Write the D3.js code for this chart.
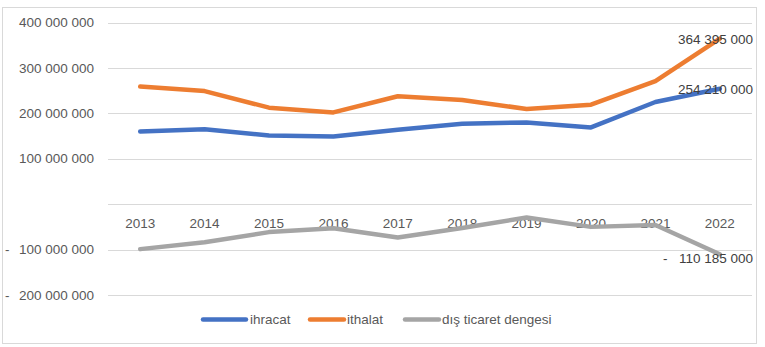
<!DOCTYPE html>
<html><head><meta charset="utf-8">
<script src="https://cdn.jsdelivr.net/npm/d3@7"></script>
<style>
html,body{margin:0;padding:0;background:#fff;}
text{font-family:"Liberation Sans",Arial,sans-serif;}
</style>
</head><body>
<svg id="chart" width="765" height="347"></svg>
<script>
const years = ["2013","2014","2015","2016","2017","2018","2019","2020","2021","2022"];
const ihracat = [160000000,165000000,151000000,149000000,164000000,177000000,180000000,169000000,225000000,254210000];
const ithalat = [259000000,249000000,212500000,202000000,237500000,229500000,209500000,219000000,271000000,364395000];
const denge = [-99000000,-84000000,-61500000,-53000000,-73500000,-52500000,-29500000,-50000000,-46000000,-110185000];
const yTicks = [-200000000,-100000000,0,100000000,200000000,300000000,400000000];
const seriesNames = ["ihracat","ithalat","dış ticaret dengesi"];
const colors = ["#4472C4","#ED7D31","#A5A5A5"];

const svg = d3.select("#chart");
svg.append("rect").attr("x",2.5).attr("y",7.5).attr("width",754).attr("height",336)
  .attr("fill","#fff").attr("stroke","#D9D9D9").attr("stroke-width",1);

const L=108, R=752, T=22.5, B=295;
const x = d3.scaleBand().domain(years).range([L,R]);
const y = d3.scaleLinear().domain([-200000000,400000000]).range([B,T]);

const fmt = v => {
  const s = d3.format(",")(Math.abs(v)).replace(/,/g," ");
  return s;
};

// gridlines
svg.append("g").selectAll("line").data(yTicks).join("line")
  .attr("x1",L).attr("x2",R)
  .attr("y1",d=>Math.round(y(d))+0.5).attr("y2",d=>Math.round(y(d))+0.5)
  .attr("stroke","#D9D9D9").attr("stroke-width",1);

// y labels
const yl = svg.append("g").attr("font-size","13.5px").attr("fill","#595959");
yTicks.filter(d=>d!==0).forEach(d=>{
  yl.append("text").attr("x",94).attr("y",y(d)).attr("dy","0.35em")
    .attr("text-anchor","end").text(fmt(d));
  if(d<0) yl.append("text").attr("x",5).attr("y",y(d)).attr("dy","0.35em").text("-");
});

// category labels
svg.append("g").selectAll("text").data(years).join("text")
  .attr("x",d=>x(d)+x.bandwidth()/2).attr("y",y(0)+19).attr("dy","0.35em")
  .attr("text-anchor","middle").attr("font-size","13.5px").attr("fill","#595959").text(d=>d);

const line = d3.line().x((d,i)=>x(years[i])+x.bandwidth()/2).y(d=>y(d));
[ihracat,ithalat,denge].forEach((s,k)=>{
  svg.append("path").datum(s).attr("d",line).attr("fill","none")
    .attr("stroke",colors[k]).attr("stroke-width",4.5).attr("stroke-linejoin","round").attr("stroke-linecap","round");
});

// data labels (last points)
const lab = svg.append("g").attr("font-size","13.5px").attr("fill","#404040");
const lastX = 753;
lab.append("text").attr("x",lastX).attr("y",y(ithalat[9])+0.5).attr("dy","0.35em").attr("text-anchor","end").text(fmt(ithalat[9]));
lab.append("text").attr("x",lastX).attr("y",y(ihracat[9])+0.5).attr("dy","0.35em").attr("text-anchor","end").text(fmt(ihracat[9]));
lab.append("text").attr("x",lastX).attr("y",y(denge[9])+4.5).attr("dy","0.35em").attr("text-anchor","end").text(fmt(denge[9]));
lab.append("text").attr("x",663).attr("y",y(denge[9])+4.5).attr("dy","0.35em").text("-");

// legend
const legX = [203,310,405];
const lg = svg.append("g");
seriesNames.forEach((n,i)=>{
  lg.append("line").attr("x1",legX[i]).attr("x2",legX[i]+ (i===0?43:34)).attr("y1",319.5).attr("y2",319.5)
    .attr("stroke",colors[i]).attr("stroke-width",4.5).attr("stroke-linecap","round");
  lg.append("text").attr("x",legX[i]+(i===0?47:37)).attr("y",319.5).attr("dy","0.35em")
    .attr("font-size","13.5px").attr("fill","#595959").text(n);
});
</script>
</body></html>
